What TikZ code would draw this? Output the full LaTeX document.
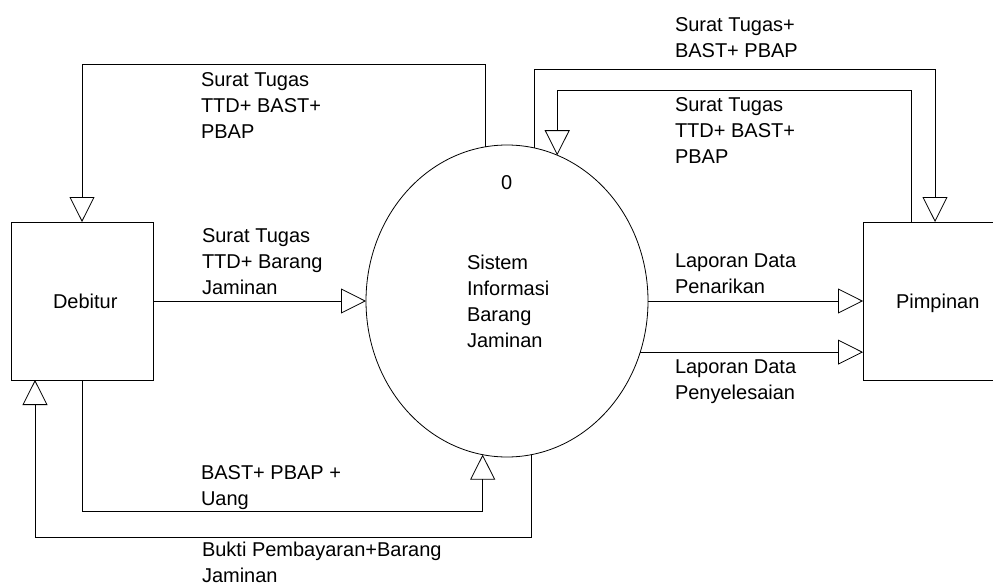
\documentclass[tikz,border=0pt]{standalone}
\usepackage{fontspec}
\setmainfont{Liberation Sans}
\usetikzlibrary{arrows.meta,shapes.geometric}
\begin{document}
\begin{tikzpicture}[x=1pt,y=-1pt,
  line/.style={draw=black,line width=0.8pt},
  flow/.style={line,-{Triangle[open,length=25pt,width=25pt]}},
  entity/.style={line,rectangle,inner sep=0pt,outer sep=0pt,minimum height=158pt},
  process/.style={line,ellipse,inner sep=0pt,outer sep=0pt,minimum width=282pt,minimum height=312pt},
  % multi-line texts are placed by the baseline of their last line
  lbl/.style={font=\fontsize{20}{26}\selectfont,align=left,anchor=base west,inner sep=0pt,outer sep=0pt},
]
\clip (0,0) rectangle (993,586);

% external entities and the process
\node[entity,minimum width=142pt] (debitur) at (82,301) {};
\node[entity,minimum width=144pt] (pimpinan) at (935,301) {};
\node[process] (proc) at (507,301) {};

% entity and process texts
\node[lbl] (tdebitur) at (53,308) {Debitur};
\node[lbl] (tpimpinan) at (896,308) {Pimpinan};
\node[lbl] (tnum) at (501,189) {0};
\node[lbl] (tproc) at (467,347) {Sistem\\Informasi\\Barang\\Jaminan};

% bend points of the routed flows
\coordinate (t1) at (82,64);
\coordinate (t2) at (935,69);
\coordinate (t3) at (911,90);
\coordinate (b1) at (0,511);
\coordinate (b2) at (35,537);

% flows
\draw[flow] (proc.98.5) |- (t1) -- (debitur.north);
\draw[flow] (debitur.east) -- (proc.west);
\draw[flow] (proc.80.75) |- (t2) -- (pimpinan.north);
\draw[flow] (t3 |- pimpinan.north) -- (t3) -- (proc.71.5 |- t3) -- (proc.71.5);
\draw[flow] (proc.east) -- (pimpinan.west);
\draw[flow] (proc.-21.4) -- (proc.-21.4 -| pimpinan.west);
\draw[flow] (debitur.south) |- (proc.261.5 |- b1) -- (proc.261.5);
\draw[flow] (proc.279.25) |- (b2) -- (b2 |- debitur.south);

% flow labels
\node[lbl] (l1) at (201,138) {Surat Tugas\\TTD+ BAST+\\PBAP};
\node[lbl] (l2) at (202,294) {Surat Tugas\\TTD+ Barang\\Jaminan};
\node[lbl] (l3) at (201,505) {BAST+ PBAP +\\Uang};
\node[lbl] (l4) at (202,582) {Bukti Pembayaran+Barang\\Jaminan};
\node[lbl] (l5) at (675,58) {Surat Tugas+\\BAST+ PBAP};
\node[lbl] (l6) at (675,163) {Surat Tugas\\TTD+ BAST+\\PBAP};
\node[lbl] (l7) at (675,293) {Laporan Data\\Penarikan};
\node[lbl] (l8) at (675,399) {Laporan Data\\Penyelesaian};
\end{tikzpicture}
\end{document}
